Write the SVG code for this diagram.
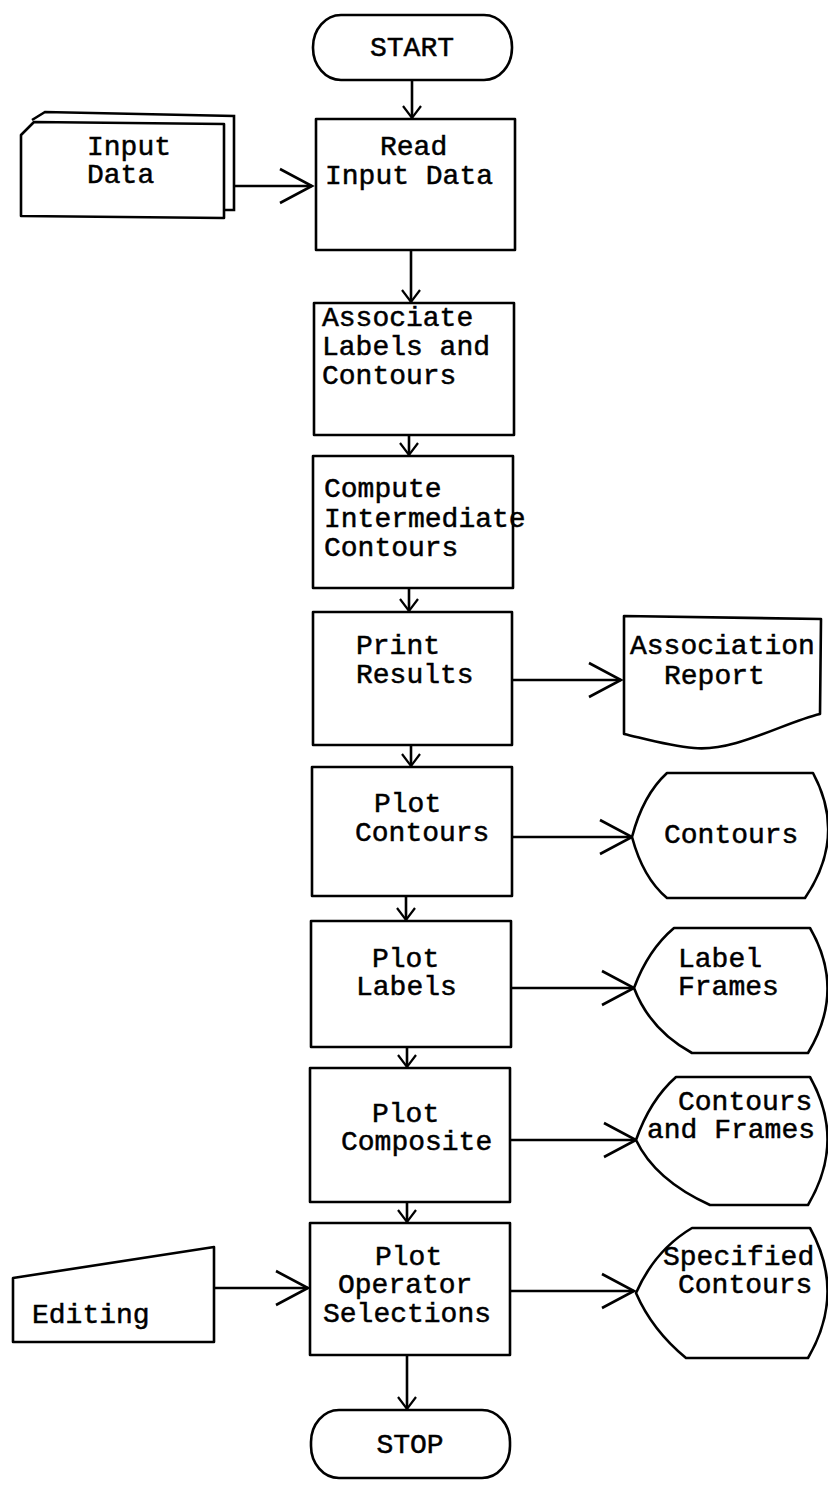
<svg xmlns="http://www.w3.org/2000/svg" width="828" height="1488" viewBox="0 0 828 1488">
<style>
.s{fill:#fff;stroke:#000;stroke-width:2.6;stroke-linejoin:round}
.c{fill:none;stroke:#000;stroke-width:2.6}
.t{font-family:"Liberation Mono","Courier New",monospace;font-size:28px;fill:#000;stroke:#000;stroke-width:0.5}
</style>
<defs>
<marker id="sm" markerUnits="userSpaceOnUse" markerWidth="14" markerHeight="20" refX="12" refY="9" orient="auto" overflow="visible">
<path d="M0,0 L12,9 L0,18" fill="none" stroke="#000" stroke-width="2.2"/>
</marker>
<marker id="lg" markerUnits="userSpaceOnUse" markerWidth="34" markerHeight="36" refX="32" refY="17" orient="auto" overflow="visible">
<path d="M0,0 L32,17 L0,34" fill="none" stroke="#000" stroke-width="2.6"/>
</marker>
</defs>
<rect width="828" height="1488" fill="#fff"/>
<g id="connectors">
<path class="c" d="M412,80 L412,118" marker-end="url(#sm)"/>
<path class="c" d="M411,250 L411,302" marker-end="url(#sm)"/>
<path class="c" d="M409,435 L409,455" marker-end="url(#sm)"/>
<path class="c" d="M409,588 L409,611" marker-end="url(#sm)"/>
<path class="c" d="M411,745 L411,766" marker-end="url(#sm)"/>
<path class="c" d="M406,896 L406,920" marker-end="url(#sm)"/>
<path class="c" d="M407,1047 L407,1067" marker-end="url(#sm)"/>
<path class="c" d="M407,1202 L407,1222" marker-end="url(#sm)"/>
<path class="c" d="M407,1355 L407,1409" marker-end="url(#sm)"/>
<path class="c" d="M235,186 L312,186" marker-end="url(#lg)"/>
<path class="c" d="M512,680 L621,680" marker-end="url(#lg)"/>
<path class="c" d="M512,837 L632,837" marker-end="url(#lg)"/>
<path class="c" d="M511,988 L634,988" marker-end="url(#lg)"/>
<path class="c" d="M510,1140 L636,1140" marker-end="url(#lg)"/>
<path class="c" d="M214,1288 L308,1288" marker-end="url(#lg)"/>
<path class="c" d="M510,1291 L634,1291" marker-end="url(#lg)"/>
</g>
<g id="start">
<rect class="s" x="313" y="15" width="199" height="65" rx="28" ry="32" stroke-width="2"/>
<text class="t" x="412" y="56" text-anchor="middle" fill="#444" stroke="#444" stroke-width="0.3">START</text>
</g>
<g id="input-data">
<path class="c" d="M32,120 L45,112 L234,116 L234,210 L224,210"/>
<path class="s" d="M21,135 L34,122 L224,124 L224,218 L21,216 Z"/>
<text class="t" x="87" y="155">Input</text>
<text class="t" x="87" y="183">Data</text>
</g>
<g id="read">
<rect class="s" x="316" y="119" width="199" height="131"/>
<text class="t" x="380" y="155">Read</text>
<text class="t" x="325" y="184">Input Data</text>
</g>
<g id="associate">
<rect class="s" x="314" y="303" width="200" height="132"/>
<text class="t" x="322" y="326">Associate</text>
<text class="t" x="322" y="355">Labels and</text>
<text class="t" x="322" y="384">Contours</text>
</g>
<g id="compute">
<rect class="s" x="313" y="456" width="200" height="132"/>
<text class="t" x="324" y="497">Compute</text>
<text class="t" x="324" y="527">Intermediate</text>
<text class="t" x="324" y="556">Contours</text>
</g>
<g id="print">
<rect class="s" x="313" y="612" width="199" height="133"/>
<text class="t" x="356" y="654">Print</text>
<text class="t" x="356" y="683">Results</text>
</g>
<g id="report">
<path class="s" d="M624,616 L821,619 L820,714 C785,722 735,752 694,748 C668,746 642,738 624,734 Z"/>
<text class="t" x="630" y="654">Association</text>
<text class="t" x="664" y="684">Report</text>
</g>
<g id="plot-contours">
<rect class="s" x="312" y="767" width="200" height="129"/>
<text class="t" x="374" y="812">Plot</text>
<text class="t" x="355" y="841">Contours</text>
</g>
<g id="contours">
<path class="s" d="M632,837 Q643,795 667,773 L813,773 Q847,836 805,898 L667,898 Q643,878 632,837 Z"/>
<text class="t" x="664" y="843">Contours</text>
</g>
<g id="plot-labels">
<rect class="s" x="311" y="921" width="200" height="126"/>
<text class="t" x="372" y="967">Plot</text>
<text class="t" x="356" y="995">Labels</text>
</g>
<g id="label-frames">
<path class="s" d="M634,988 Q648,950 674,928 L810,928 Q846,990 808,1053 L692,1053 Q650,1030 634,988 Z"/>
<text class="t" x="678" y="967">Label</text>
<text class="t" x="678" y="995">Frames</text>
</g>
<g id="plot-composite">
<rect class="s" x="310" y="1068" width="200" height="134"/>
<text class="t" x="372" y="1122">Plot</text>
<text class="t" x="341" y="1150">Composite</text>
</g>
<g id="contours-frames">
<path class="s" d="M636,1140 Q650,1100 676,1077 L810,1077 Q846,1141 808,1205 L710,1205 Q655,1180 636,1140 Z"/>
<text class="t" x="678" y="1110">Contours</text>
<text class="t" x="647" y="1138">and Frames</text>
</g>
<g id="editing">
<path class="s" d="M13,1278 L214,1247 L214,1342 L13,1342 Z"/>
<text class="t" x="32" y="1323">Editing</text>
</g>
<g id="plot-operator">
<rect class="s" x="310" y="1223" width="200" height="132"/>
<text class="t" x="375" y="1265">Plot</text>
<text class="t" x="338" y="1293">Operator</text>
<text class="t" x="323" y="1322">Selections</text>
</g>
<g id="specified">
<path class="s" d="M636,1293 Q655,1250 692,1228 L810,1228 Q846,1293 808,1358 L686,1358 Q652,1330 636,1293 Z"/>
<text class="t" x="663" y="1265">Specified</text>
<text class="t" x="678" y="1293">Contours</text>
</g>
<g id="stop">
<rect class="s" x="311" y="1410" width="199" height="68" rx="28" ry="32"/>
<text class="t" x="410" y="1453" text-anchor="middle">STOP</text>
</g>
</svg>
